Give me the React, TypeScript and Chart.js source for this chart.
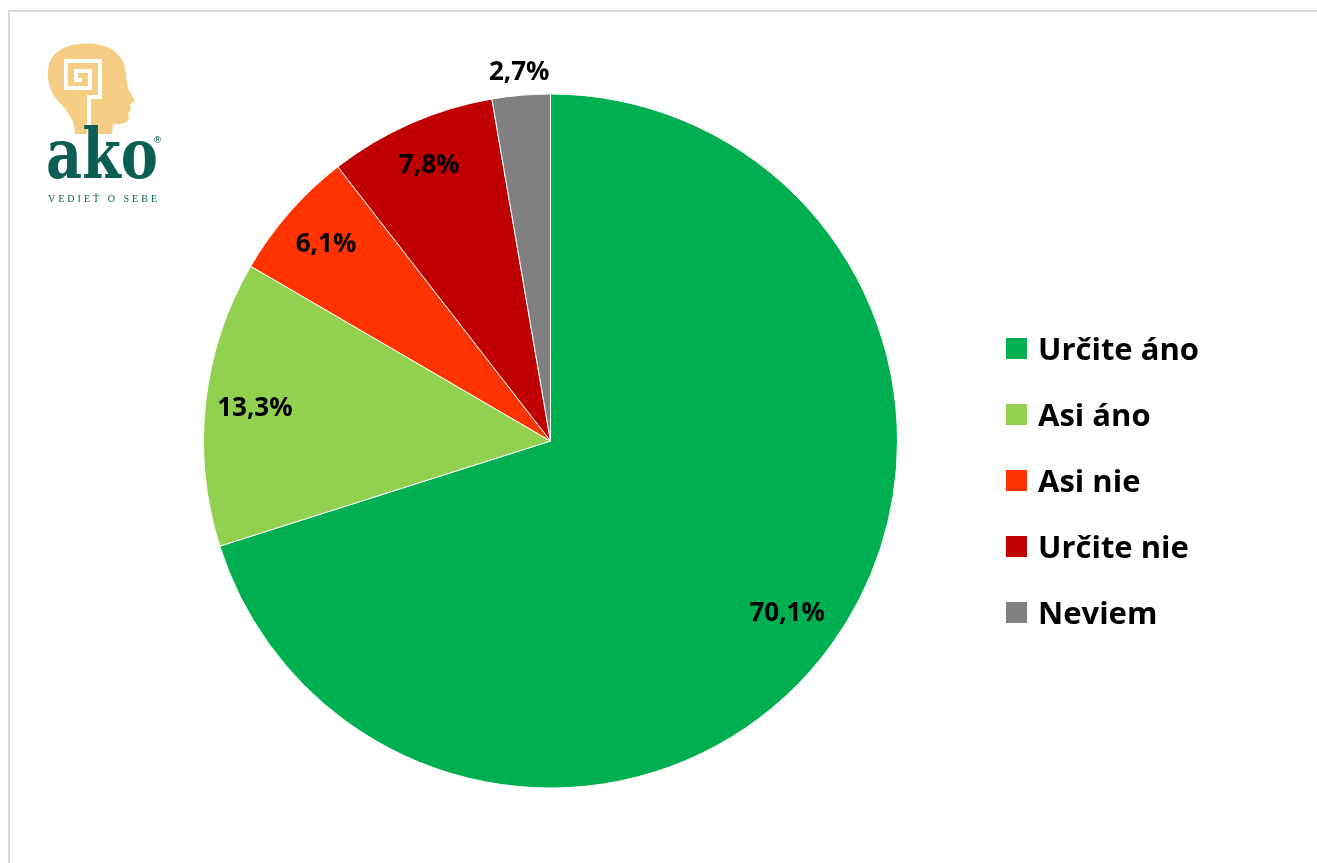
import React, { useEffect, useRef } from "react";
import { Chart, registerables } from "chart.js";

Chart.register(...registerables);

const categories = ["Určite áno", "Asi áno", "Asi nie", "Určite nie", "Neviem"];
const values = [70.1, 13.3, 6.1, 7.8, 2.7];
const valueLabels = ["70,1%", "13,3%", "6,1%", "7,8%", "2,7%"];
const colors = ["#00B050", "#92D050", "#FF3300", "#C00000", "#808080"];
const labelRadiusFactors = [0.845, 0.857, 0.86, 0.868, 1.065];

const W = 1317;
const H = 863;

const labelPlugin = {
  id: "sliceLabels",
  afterDatasetsDraw(chart: any) {
    const ctx = chart.ctx;
    const meta = chart.getDatasetMeta(0);
    ctx.save();
    ctx.font = "bold 26px 'Open Sans'";
    ctx.fillStyle = "#000000";
    ctx.textAlign = "center";
    ctx.textBaseline = "middle";
    meta.data.forEach((arc: any, i: number) => {
      const p = arc.getProps(["x", "y", "startAngle", "endAngle", "outerRadius"], true);
      const mid = (p.startAngle + p.endAngle) / 2;
      const r = p.outerRadius * labelRadiusFactors[i];
      ctx.fillText(valueLabels[i], p.x + Math.cos(mid) * r, p.y + Math.sin(mid) * r);
    });
    ctx.restore();
  },
};

function Logo() {
  const teal = "#0B5E54";
  const tan = "#F5CD85";
  return (
    <svg
      width={200}
      height={220}
      style={{ position: "absolute", left: 0, top: 0 }}
      viewBox="0 0 200 220"
    >
      <path
        d="M75,134 C75,121 68,111 58,101 C47,89 45,71 51,59 C59,46 77,42 95,44 C114,46 126,58 126,76 L128,88 L135,101 L130,104 L131,110 L128,113 L129,118 C128,124 121,124 113,124 L112,134 Z"
        fill={tan}
      />
      <path
        d="M89,135 V97 H100 V61 H66 V88 H90 V71 H76 V80 H82"
        fill="none"
        stroke="#ffffff"
        strokeWidth={4}
      />
      <text
        x={46}
        y={178}
        fontFamily="'DejaVu Serif', serif"
        fontWeight={700}
        fontSize={70}
        fill={teal}
        textLength={112}
        lengthAdjust="spacingAndGlyphs"
      >
        ako
      </text>
      <text x={153} y={143} fontFamily="'DejaVu Sans', sans-serif" fontSize={9} fill={teal}>
        ®
      </text>
      <text
        x={48}
        y={202}
        fontFamily="'Liberation Serif', serif"
        fontSize={10}
        fill={teal}
        textLength={109}
        lengthAdjust="spacing"
      >
        VEDIEŤ O SEBE
      </text>
    </svg>
  );
}

export default function App() {
  const canvasRef = useRef<HTMLCanvasElement | null>(null);

  useEffect(() => {
    if (!canvasRef.current) return;
    const chart = new Chart(canvasRef.current, {
      type: "pie",
      data: {
        labels: categories,
        datasets: [
          {
            data: values,
            backgroundColor: colors,
            borderColor: "#ffffff",
            borderWidth: 1,
          },
        ],
      },
      options: {
        responsive: false,
        animation: false,
        rotation: 0,
        layout: { padding: { left: 203, right: 419, top: 93, bottom: 74 } },
        plugins: {
          legend: { display: false },
          tooltip: { enabled: false },
        },
      },
      plugins: [labelPlugin],
    });
    return () => chart.destroy();
  }, []);

  return (
    <div
      style={{
        position: "fixed",
        left: 0,
        top: 0,
        width: W,
        height: H,
        overflow: "hidden",
        background: "#ffffff",
      }}
    >
      <div
        style={{
          position: "absolute",
          left: 8,
          top: 10,
          width: 1400,
          height: 1000,
          border: "2px solid #D9D9D9",
        }}
      />
      <canvas
        ref={canvasRef}
        width={W}
        height={H}
        style={{ position: "absolute", left: 0, top: 0, width: W, height: H }}
      />
      <Logo />
      <div
        style={{
          position: "absolute",
          left: 1006,
          top: 315,
          fontFamily: "'Open Sans', sans-serif",
          fontWeight: 700,
          fontSize: 31,
          color: "#000000",
        }}
      >
        {categories.map((c, i) => (
          <div
            key={c}
            style={{ display: "flex", alignItems: "center", height: 66, whiteSpace: "nowrap" }}
          >
            <span
              style={{
                display: "inline-block",
                width: 21,
                height: 21,
                background: colors[i],
                marginRight: 11,
              }}
            />
            <span style={{ lineHeight: "66px" }}>{c}</span>
          </div>
        ))}
      </div>
    </div>
  );
}
